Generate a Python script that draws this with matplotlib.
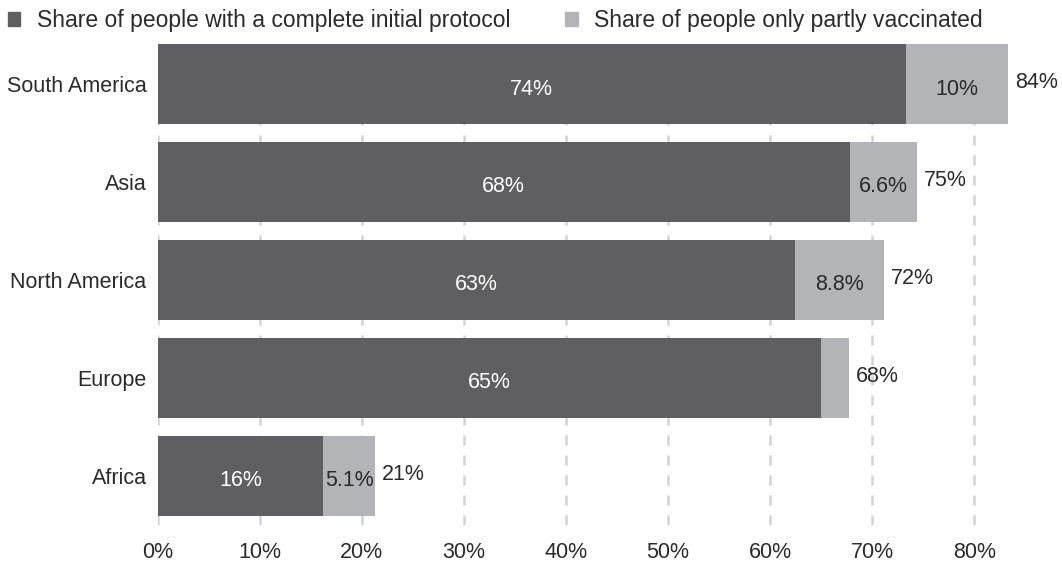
import numpy as np
import matplotlib.pyplot as plt
from matplotlib.patches import Patch

plt.rcParams['font.family'] = ['Liberation Sans', 'DejaVu Sans']

regions = ['South America', 'Asia', 'North America', 'Europe', 'Africa']
complete = [73.3, 67.8, 62.4, 65.0, 16.2]
partly = [10.0, 6.6, 8.8, 2.7, 5.1]
complete_lbl = ['74%', '68%', '63%', '65%', '16%']
partly_lbl = ['10%', '6.6%', '8.8%', '', '5.1%']
total_lbl = ['84%', '75%', '72%', '68%', '21%']
xticks = [0, 10, 20, 30, 40, 50, 60, 70, 80]

dark = '#5f5f61'
light = '#b3b4b7'
txt = '#2a2a2a'
fs = 15.5

fig = plt.figure(figsize=(10.62, 5.67), dpi=100)
ax = fig.add_axes([0.1485, 0.074, 0.8025, 0.8485])

y = np.arange(len(regions))[::-1]
complete = np.array(complete)
partly = np.array(partly)
h = 0.82

ax.barh(y, complete, height=h, color=dark, zorder=2)
ax.barh(y, partly, left=complete, height=h, color=light, zorder=2)

for i in range(len(regions)):
    ax.text(complete[i] / 2, y[i] - 0.05, complete_lbl[i], ha='center', va='center',
            color='white', fontsize=fs, zorder=3)
    if partly_lbl[i]:
        ax.text(complete[i] + partly[i] / 2, y[i] - 0.05, partly_lbl[i], ha='center',
                va='center', color=txt, fontsize=fs, zorder=3)
    ax.annotate(total_lbl[i], (complete[i] + partly[i], y[i] + 0.02), xytext=(5, 0),
                textcoords='offset points', ha='left', va='center',
                color=txt, fontsize=fs)

ax.set_xlim(0, 83.5)
ax.set_ylim(-0.5, 4.41)
ax.set_xticks(xticks)
ax.set_xticklabels([f'{t}%' for t in xticks])
ax.set_yticks(y)
ax.set_yticklabels(regions)
ax.tick_params(axis='both', length=0, labelsize=fs, colors=txt)
ax.tick_params(axis='y', pad=8)
ax.tick_params(axis='x', pad=12)
ax.grid(axis='x', color='#d3d3d3', linestyle=(0, (4, 4)), linewidth=1.8, zorder=0)
for s in ax.spines.values():
    s.set_visible(False)

handles = [Patch(color=dark, label='Share of people with a complete initial protocol'),
           Patch(color=light, label='Share of people only partly vaccinated')]
fig.legend(handles=handles, loc='upper left', bbox_to_anchor=(-0.012, 1.02), ncol=2,
           frameon=False, fontsize=16.5, handlelength=0.55, handleheight=0.55,
           handletextpad=0.7, columnspacing=2.4, labelcolor=txt)

fig.savefig('out.png', dpi=100)
